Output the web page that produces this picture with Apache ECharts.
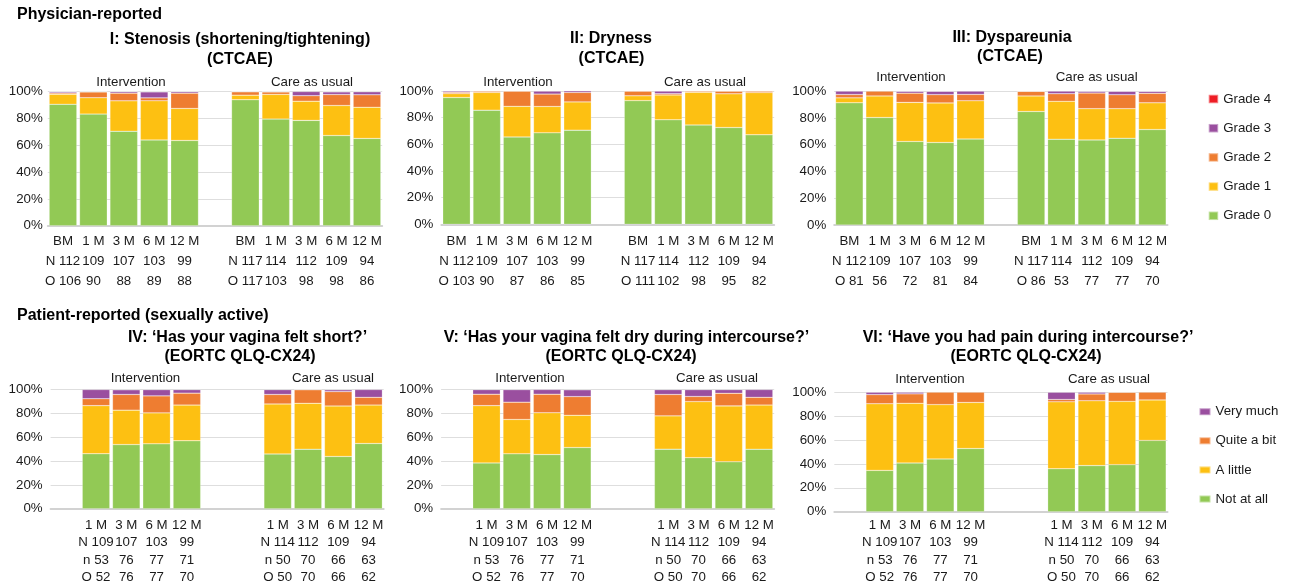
<!DOCTYPE html>
<html>
<head>
<meta charset="utf-8">
<title>Vaginal morbidity: CTCAE grades and EORTC QLQ-CX24 responses</title>
<script src="https://cdn.jsdelivr.net/npm/echarts@6/dist/echarts.min.js"></script>
<style>
  html, body { margin: 0; padding: 0; background: #ffffff; }
  #chart { width: 1290px; height: 588px; }
</style>
</head>
<body>
<div id="chart"></div>
<script>
// ---------- time points and answer categories ----------
const TIME_CTCAE = ['BM', '1 M', '3 M', '6 M', '12 M'];
const TIME_PRO = ['1 M', '3 M', '6 M', '12 M'];
const GRADE_NAMES = ['Grade 0', 'Grade 1', 'Grade 2', 'Grade 3', 'Grade 4'];
const PRO_NAMES = ['Not at all', 'A little', 'Quite a bit', 'Very much'];
const GROUP_NAMES = ['Intervention', 'Care as usual'];

// ---------- patient counts ----------
// N = patients in follow-up, n = sexually active, O = observed answers
const N_CTCAE_INT = [112, 109, 107, 103, 99];
const N_CTCAE_CAU = [117, 114, 112, 109, 94];
const O_STENOSIS_INT = [106, 90, 88, 89, 88];
const O_STENOSIS_CAU = [117, 103, 98, 98, 86];
const O_DRYNESS_INT = [103, 90, 87, 86, 85];
const O_DRYNESS_CAU = [111, 102, 98, 95, 82];
const O_DYSPAREUNIA_INT = [81, 56, 72, 81, 84];
const O_DYSPAREUNIA_CAU = [86, 53, 77, 77, 70];

const N_PRO_INT = [109, 107, 103, 99];
const N_PRO_CAU = [114, 112, 109, 94];
const SA_PRO_INT = [53, 76, 77, 71];
const SA_PRO_CAU = [50, 70, 66, 63];
const O_PRO_INT = [52, 76, 77, 70];
const O_PRO_CAU = [50, 70, 66, 62];

// ---------- percentages (rows: Grade 0..4, columns: time points) ----------
const STENOSIS_INT = [
  [90.6, 83.3, 70.5, 64.0, 63.6],
  [7.5, 12.2, 22.7, 29.2, 23.9],
  [0.9, 4.4, 5.7, 2.2, 11.4],
  [0.9, 0, 1.1, 4.5, 1.1],
  [0, 0, 0, 0, 0]
];
const STENOSIS_CAU = [
  [94.0, 79.6, 78.6, 67.3, 65.1],
  [3.4, 18.4, 14.3, 22.4, 23.3],
  [2.6, 1.9, 4.1, 8.2, 9.3],
  [0, 0, 3.1, 2.0, 2.3],
  [0, 0, 0, 0, 0]
];
const DRYNESS_INT = [
  [95.1, 85.6, 65.5, 68.6, 70.6],
  [2.9, 13.3, 23.0, 19.8, 21.2],
  [1.0, 1.1, 11.5, 9.3, 7.1],
  [1.0, 0, 0, 2.3, 1.2],
  [0, 0, 0, 0, 0]
];
const DRYNESS_CAU = [
  [92.8, 78.4, 74.5, 72.6, 67.1],
  [3.6, 18.6, 24.5, 25.3, 31.7],
  [3.6, 1.0, 1.0, 2.1, 1.2],
  [0, 2.0, 0, 0, 0],
  [0, 0, 0, 0, 0]
];
const DYSPAREUNIA_INT = [
  [91.4, 80.4, 62.5, 61.7, 64.3],
  [3.7, 16.1, 29.2, 29.6, 28.6],
  [2.5, 3.6, 6.9, 6.2, 4.8],
  [2.5, 0, 1.4, 2.5, 2.4],
  [0, 0, 0, 0, 0]
];
const DYSPAREUNIA_CAU = [
  [84.9, 64.2, 63.6, 64.9, 71.4],
  [11.6, 28.3, 23.4, 22.1, 20.0],
  [3.5, 5.7, 11.7, 10.4, 7.1],
  [0, 1.9, 1.3, 2.6, 1.4],
  [0, 0, 0, 0, 0]
];

// rows: Not at all, A little, Quite a bit, Very much
const SHORT_INT = [
  [46.2, 53.9, 54.5, 57.1],
  [40.4, 28.9, 26.0, 30.0],
  [5.8, 13.2, 14.3, 10.0],
  [7.7, 3.9, 5.2, 2.9]
];
const SHORT_CAU = [
  [46.0, 50.0, 43.9, 54.8],
  [42.0, 38.6, 42.4, 32.3],
  [8.0, 11.4, 12.1, 6.5],
  [4.0, 0, 1.5, 6.5]
];
const DRY_INT = [
  [38.5, 46.1, 45.5, 51.4],
  [48.1, 28.9, 35.1, 27.1],
  [9.6, 14.5, 15.6, 15.7],
  [3.8, 10.5, 3.9, 5.7]
];
const DRY_CAU = [
  [50.0, 42.9, 39.4, 50.0],
  [28.0, 47.1, 47.0, 37.1],
  [18.0, 4.3, 10.6, 6.5],
  [4.0, 5.7, 3.0, 6.5]
];
const PAIN_INT = [
  [34.6, 40.8, 44.2, 52.9],
  [55.8, 50.0, 45.5, 38.6],
  [7.7, 7.9, 10.4, 8.6],
  [1.9, 1.3, 0, 0]
];
const PAIN_CAU = [
  [36.0, 38.6, 39.4, 59.7],
  [56.0, 54.3, 53.0, 33.9],
  [2.0, 5.7, 7.6, 6.5],
  [6.0, 1.4, 0, 0]
];

// ---------- styling ----------
const FONT = "'Liberation Sans', Arial, Helvetica, sans-serif";
const TEXT = '#1a1a1a';
const GRADE_COLORS = ['#92C955', '#FDC012', '#EE7D31', '#9A4F9F', '#EE1D25'];
const PRO_COLORS = ['#92C955', '#FDC012', '#EE7D31', '#9A4F9F'];
const SMALL = 13.3;

// panel geometry: plot box, first label line, line spacing, y-label gap
const PANELS = [
  { title: ['I: Stenosis (shortening/tightening)', '(CTCAE)'], tx: [240, 240], ty: [40, 60],
    gx: [131, 312], gy: 82,
    box: { left: 47.8, top: 91.7, width: 334.4, height: 134 }, firstY: 241, lineH: 20.4, yGap: 5,
    kind: 'ctcae', int: STENOSIS_INT, cau: STENOSIS_CAU,
    rowsInt: [['N', N_CTCAE_INT], ['O', O_STENOSIS_INT]], rowsCau: [['N', N_CTCAE_CAU], ['O', O_STENOSIS_CAU]] },
  { title: ['II: Dryness', '(CTCAE)'], tx: [611, 611.5], ty: [39, 59],
    gx: [518, 705], gy: 82,
    box: { left: 441.4, top: 91, width: 332.8, height: 133.3 }, firstY: 241, lineH: 20, yGap: 8,
    kind: 'ctcae', int: DRYNESS_INT, cau: DRYNESS_CAU,
    rowsInt: [['N', N_CTCAE_INT], ['O', O_DRYNESS_INT]], rowsCau: [['N', N_CTCAE_CAU], ['O', O_DRYNESS_CAU]] },
  { title: ['III: Dyspareunia', '(CTCAE)'], tx: [1012, 1010], ty: [37.5, 57],
    gx: [911, 1096.7], gy: 77,
    box: { left: 834.2, top: 91.3, width: 333.3, height: 133.7 }, firstY: 241, lineH: 20, yGap: 8,
    kind: 'ctcae', int: DYSPAREUNIA_INT, cau: DYSPAREUNIA_CAU,
    rowsInt: [['N', N_CTCAE_INT], ['O', O_DYSPAREUNIA_INT]], rowsCau: [['N', N_CTCAE_CAU], ['O', O_DYSPAREUNIA_CAU]] },
  { title: ['IV: \u2018Has your vagina felt short?\u2019', '(EORTC QLQ-CX24)'], tx: [247.5, 240], ty: [338, 357],
    gx: [145.5, 333], gy: 378,
    box: { left: 50.6, top: 389.7, width: 333.1, height: 119 }, firstY: 525, lineH: 17.6, yGap: 8,
    kind: 'pro', int: SHORT_INT, cau: SHORT_CAU,
    rowsInt: [['N', N_PRO_INT], ['n', SA_PRO_INT], ['O', O_PRO_INT]], rowsCau: [['N', N_PRO_CAU], ['n', SA_PRO_CAU], ['O', O_PRO_CAU]] },
  { title: ['V: \u2018Has your vagina felt dry during intercourse?\u2019', '(EORTC QLQ-CX24)'], tx: [626.5, 621], ty: [338, 357],
    gx: [530, 717], gy: 378,
    box: { left: 441.1, top: 389.7, width: 333.1, height: 119 }, firstY: 525, lineH: 17.6, yGap: 8,
    kind: 'pro', int: DRY_INT, cau: DRY_CAU,
    rowsInt: [['N', N_PRO_INT], ['n', SA_PRO_INT], ['O', O_PRO_INT]], rowsCau: [['N', N_PRO_CAU], ['n', SA_PRO_CAU], ['O', O_PRO_CAU]] },
  { title: ['VI: \u2018Have you had pain during intercourse?\u2019', '(EORTC QLQ-CX24)'], tx: [1028, 1026], ty: [338, 357],
    gx: [930, 1109], gy: 379,
    box: { left: 834.3, top: 392.3, width: 333.2, height: 119.4 }, firstY: 525, lineH: 17.6, yGap: 8,
    kind: 'pro', int: PAIN_INT, cau: PAIN_CAU,
    rowsInt: [['N', N_PRO_INT], ['n', SA_PRO_INT], ['O', O_PRO_INT]], rowsCau: [['N', N_PRO_CAU], ['n', SA_PRO_CAU], ['O', O_PRO_CAU]] }
];

// Each panel has 11 slots: 5 for the intervention arm, one spacer, 5 for care as usual.
// The patient-reported panels leave the baseline slot of each arm empty.
function slotValues(kind, intVals, cauVals) {
  if (kind === 'ctcae') return [...intVals, null, ...cauVals];
  return [null, ...intVals, null, null, ...cauVals];
}

function armLabels(times, rows) {
  return times.map((t, j) => [t].concat(rows.map(r => (j === 0 ? r[0] + ' ' : '') + r[1][j])).join('\n'));
}

const grids = [], xAxes = [], yAxes = [], series = [], graphics = [];

PANELS.forEach((p, i) => {
  const times = p.kind === 'ctcae' ? TIME_CTCAE : TIME_PRO;
  const names = p.kind === 'ctcae' ? GRADE_NAMES : PRO_NAMES;
  const colors = p.kind === 'ctcae' ? GRADE_COLORS : PRO_COLORS;
  const labels = slotValues(p.kind, armLabels(times, p.rowsInt), armLabels(times, p.rowsCau))
    .map(v => (v === null ? '' : v));
  const slots = labels.map((_, k) => 'slot' + k);

  grids.push(Object.assign({ outerBoundsMode: 'none', containLabel: false }, p.box));

  xAxes.push({
    type: 'category', gridIndex: i, data: slots,
    axisTick: { show: false },
    axisLine: { show: true, lineStyle: { color: '#d2d2d2', width: 2 } },
    axisLabel: {
      interval: 0, margin: p.firstY - p.lineH / 2 - (p.box.top + p.box.height),
      lineHeight: p.lineH, fontSize: SMALL, fontFamily: FONT, color: TEXT,
      align: 'center', verticalAlign: 'top',
      formatter: (v, idx) => labels[idx]
    },
    splitLine: { show: false }
  });

  yAxes.push({
    type: 'value', gridIndex: i, min: 0, max: 100, interval: 20,
    axisLine: { show: false }, axisTick: { show: false },
    axisLabel: { formatter: '{value}%', margin: p.yGap, fontSize: SMALL, fontFamily: FONT, color: TEXT },
    splitLine: { show: true, lineStyle: { color: '#dedede', width: 1 } }
  });

  names.forEach((name, k) => {
    series.push({
      type: 'bar', name: name, xAxisIndex: i, yAxisIndex: i, stack: 'panel' + i,
      data: slotValues(p.kind, p.int[k], p.cau[k]),
      barCategoryGap: '9%',
      itemStyle: { color: colors[k], borderColor: 'rgba(255,255,255,0.45)', borderWidth: 0.5 },
      emphasis: { disabled: true }
    });
  });

  p.title.forEach((line, li) => {
    graphics.push({
      type: 'text', x: p.tx[li], y: p.ty[li], silent: true,
      style: { text: line, fill: '#000', font: 'bold 16px ' + FONT, align: 'center', verticalAlign: 'middle' }
    });
  });
  GROUP_NAMES.forEach((g, gi) => {
    graphics.push({
      type: 'text', x: p.gx[gi], y: p.gy, silent: true,
      style: { text: g, fill: TEXT, font: SMALL + 'px ' + FONT, align: 'center', verticalAlign: 'middle' }
    });
  });
});

// section headings
[['Physician-reported', 15], ['Patient-reported (sexually active)', 316]].forEach(([t, y]) => {
  graphics.push({
    type: 'text', x: 17, y: y, silent: true,
    style: { text: t, fill: '#000', font: 'bold 16px ' + FONT, align: 'left', verticalAlign: 'middle' }
  });
});

const legendText = { fontSize: SMALL, fontFamily: FONT, color: TEXT, lineHeight: 14 };

const option = {
  animation: false,
  backgroundColor: '#ffffff',
  grid: grids,
  xAxis: xAxes,
  yAxis: yAxes,
  series: series,
  legend: [
    { orient: 'vertical', left: 1202.7, top: 87, icon: 'rect', itemWidth: 9.5, itemHeight: 8.5,
      itemGap: 15.2, textStyle: legendText, data: GRADE_NAMES.slice().reverse(), selectedMode: false },
    { orient: 'vertical', left: 1193.5, top: 399.7, icon: 'rect', itemWidth: 11, itemHeight: 7,
      itemGap: 15.1, textStyle: legendText, data: PRO_NAMES.slice().reverse(), selectedMode: false }
  ],
  graphic: graphics
};

const chart = echarts.init(document.getElementById('chart'), null, { renderer: 'canvas' });
chart.setOption(option);
</script>
</body>
</html>
